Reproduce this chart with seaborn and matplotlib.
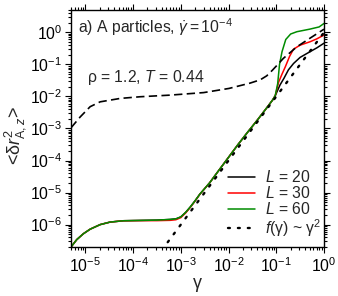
import numpy as np
import seaborn as sns
import matplotlib.pyplot as plt
import matplotlib.ticker as mticker

# shared low-strain part (all system sizes overlap there)
gamma_low = [5.0e-6, 6.6e-6, 9.1e-6, 1.26e-5, 2.04e-5, 3.3e-5, 6.3e-5, 1.41e-4,
             3.16e-4, 6.0e-4, 7.9e-4, 1.0e-3, 1.26e-3, 1.58e-3, 2.0e-3, 2.5e-3,
             4.0e-3, 6.3e-3, 1.0e-2, 1.58e-2, 2.5e-2, 4.0e-2, 6.3e-2, 8.3e-2, 9.5e-2]
msd_low = [2.0e-7, 3.4e-7, 5.2e-7, 7.2e-7, 1.0e-6, 1.2e-6, 1.32e-6, 1.35e-6,
           1.38e-6, 1.45e-6, 1.51e-6, 1.74e-6, 2.4e-6, 3.55e-6, 5.6e-6, 8.9e-6,
           2.0e-5, 5.0e-5, 1.26e-4, 3.16e-4, 7.6e-4, 1.82e-3, 4.4e-3, 7.6e-3, 1.05e-2]
msd_low_red = [2.0e-7, 3.4e-7, 5.2e-7, 7.2e-7, 1.0e-6, 1.2e-6, 1.32e-6, 1.33e-6,
               1.33e-6, 1.36e-6, 1.42e-6, 1.65e-6, 2.3e-6, 3.45e-6, 5.5e-6, 8.8e-6,
               2.0e-5, 5.0e-5, 1.26e-4, 3.16e-4, 7.6e-4, 1.82e-3, 4.4e-3, 7.6e-3, 1.05e-2]

# L = 20
gamma_20 = [0.12, 0.145, 0.18, 0.23, 0.316, 0.51, 0.71, 1.0]
msd_20 = [0.023, 0.037, 0.068, 0.107, 0.166, 0.25, 0.33, 0.46]
# L = 30
gamma_30 = [0.112, 0.132, 0.155, 0.19, 0.23, 0.316, 0.51, 0.71, 1.0]
msd_30 = [0.028, 0.05, 0.085, 0.178, 0.30, 0.40, 0.51, 0.63, 0.83]
# L = 60
gamma_60 = [0.107, 0.117, 0.132, 0.158, 0.20, 0.27, 0.50, 0.79, 1.0]
msd_60 = [0.025, 0.10, 0.25, 0.60, 0.89, 1.05, 1.26, 1.48, 1.9]

# dashed reference curve
gamma_dash = [5.0e-6, 7.8e-6, 1.26e-5, 2.04e-5, 5.4e-5, 1.41e-4, 5.9e-4, 3.0e-3,
              1.02e-2, 2.8e-2, 4.6e-2, 6.3e-2, 8.3e-2, 0.105, 0.141, 0.27, 0.51, 1.0]
msd_dash = [1.05e-3, 2.3e-3, 4.8e-3, 6.8e-3, 8.7e-3, 9.8e-3, 1.1e-2, 1.32e-2,
            1.78e-2, 2.6e-2, 3.3e-2, 4.4e-2, 6.6e-2, 9.6e-2, 0.155, 0.355, 0.66, 1.26]

# f(gamma) ~ gamma^2
gamma_fit = [3.0e-4, 1.0e-3, 1.0e-2, 1.0e-1, 1.0]
f_fit = [9.0e-8, 1.0e-6, 1.0e-4, 1.0e-2, 1.0]

# major tick decades
x_ticks = [1e-5, 1e-4, 1e-3, 1e-2, 1e-1, 1e0]
y_ticks = [1e-6, 1e-5, 1e-4, 1e-3, 1e-2, 1e-1, 1e0]

sns.set_style('ticks')
plt.rcParams['font.family'] = ['Liberation Sans', 'DejaVu Sans']
plt.rcParams['mathtext.fontset'] = 'custom'
plt.rcParams['mathtext.rm'] = 'Liberation Sans'
plt.rcParams['mathtext.it'] = 'Liberation Sans:italic'
plt.rcParams['mathtext.bf'] = 'Liberation Sans:bold'

fig, ax = plt.subplots(figsize=(3.38, 2.96), dpi=100)
fig.subplots_adjust(left=71/338, right=324/338, top=1-10/296, bottom=1-247/296)

green = '#008c00'
lw = 1.1
fs = 11.3
sns.lineplot(x=gamma_low + gamma_20, y=msd_low + msd_20, ax=ax, color='black',
             lw=lw, sort=False, estimator=None, label=r'$L$ = 20')
sns.lineplot(x=gamma_low + gamma_30, y=msd_low_red + msd_30, ax=ax, color='red',
             lw=lw, sort=False, estimator=None, label=r'$L$ = 30')
sns.lineplot(x=gamma_low + gamma_60, y=msd_low + msd_60, ax=ax, color=green,
             lw=lw, sort=False, estimator=None, label=r'$L$ = 60')
sns.lineplot(x=gamma_dash, y=msd_dash, ax=ax, color='black', lw=1.2,
             sort=False, estimator=None)
ax.lines[-1].set_dashes((5, 2.6))
sns.lineplot(x=gamma_fit, y=f_fit, ax=ax, color='black', lw=1.7,
             sort=False, estimator=None, label=r'$f$(γ) ~ γ$^2$')
ax.lines[-1].set_linestyle((0, (0.8, 3.4)))
ax.lines[-1].set_dash_capstyle('round')

ax.set_xscale('log')
ax.set_yscale('log')
ax.set_xlim(5e-6, 1)
ax.set_ylim(2e-7, 5)

ax.xaxis.set_major_locator(mticker.FixedLocator(x_ticks))
ax.yaxis.set_major_locator(mticker.FixedLocator(y_ticks))
ax.xaxis.set_major_formatter(mticker.LogFormatterSciNotation())
ax.yaxis.set_major_formatter(mticker.LogFormatterSciNotation())
ax.xaxis.set_minor_locator(mticker.LogLocator(base=10, subs=np.arange(2, 10), numticks=20))
ax.yaxis.set_minor_locator(mticker.LogLocator(base=10, subs=np.arange(2, 10), numticks=20))
ax.xaxis.set_minor_formatter(mticker.NullFormatter())
ax.yaxis.set_minor_formatter(mticker.NullFormatter())

ax.tick_params(which='both', direction='out', top=True, right=True,
               labelsize=fs, colors='black', width=0.8, pad=2)
ax.tick_params(which='major', length=4.5)
ax.tick_params(which='minor', length=2.5)
for s in ax.spines.values():
    s.set_linewidth(1.0)
    s.set_color('black')

ax.set_xlabel('γ', fontsize=13, labelpad=0)
ax.set_ylabel(r'<δ$r^2_{\mathrm{A},z}$>', fontsize=13)
ax.yaxis.set_label_coords(-0.168, 0.47)

ax.text(0.028, 0.975, r'a) A particles, $\dot{\gamma}=10^{-4}$', transform=ax.transAxes,
        fontsize=fs, va='top', ha='left')
ax.text(0.063, 0.715, r'ρ = 1.2, $T$ = 0.44', transform=ax.transAxes,
        fontsize=fs, va='center', ha='left')

ax.legend(loc='lower right', bbox_to_anchor=(1.025, -0.005), frameon=False,
          fontsize=fs, handlelength=1.75, handletextpad=0.6,
          labelspacing=0.0, borderpad=0.1)

fig.savefig('out.png', dpi=100)
